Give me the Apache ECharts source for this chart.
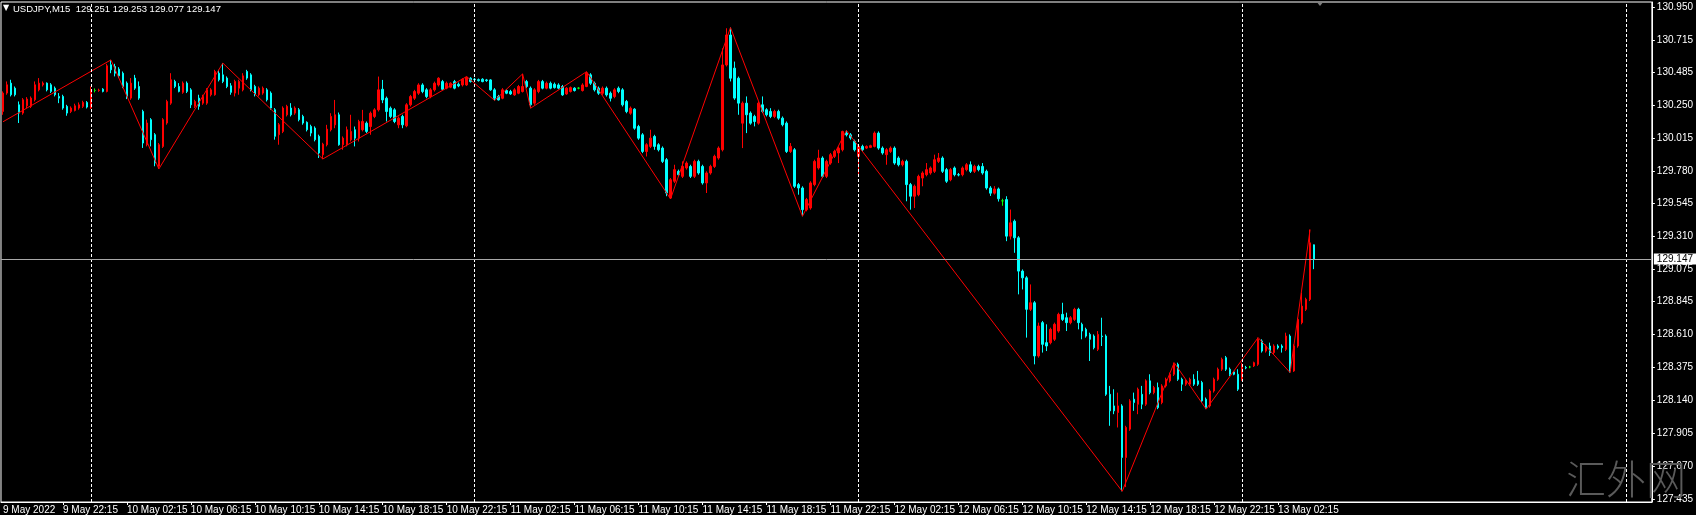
<!DOCTYPE html>
<html><head><meta charset="utf-8">
<script src="https://cdn.jsdelivr.net/npm/echarts@6/dist/echarts.min.js"></script>
<style>html,body{margin:0;padding:0;background:#000;}#c{width:1696px;height:515px;}</style>
</head><body><div id="c"></div>
<script>
const symbolName = 'USDJPY,M15';
const firstLabel = '9 May 2022';
const startDay = 9, startHour = 18, startMin = 30; // first bar: 9 May 2022 18:30, M15
const totalSlots = 413;

// [open, close, low, high]
const bars = [
[130.204,130.335,130.180,130.347],[130.335,130.394,130.323,130.418],[130.406,130.323,130.311,130.430],[130.370,130.323,130.311,130.382],
[130.251,130.192,130.121,130.275],[130.192,130.287,130.180,130.299],[130.244,130.292,130.228,130.306],[130.240,130.299,130.228,130.311],
[130.287,130.394,130.275,130.418],[130.358,130.406,130.347,130.442],[130.394,130.406,130.382,130.418],[130.406,130.358,130.347,130.411],
[130.394,130.347,130.335,130.406],[130.370,130.323,130.311,130.382],[130.311,130.299,130.263,130.335],[130.311,130.228,130.216,130.323],
[130.240,130.192,130.173,130.251],[130.204,130.228,130.192,130.240],[130.211,130.244,130.204,130.259],[130.228,130.251,130.216,130.268],
[130.240,130.268,130.228,130.280],[130.268,130.235,130.225,130.278],[130.228,130.358,130.221,130.382],[130.354,130.354,130.340,130.368],
[130.354,130.356,130.344,130.366],[130.363,130.347,130.340,130.370],[130.347,130.530,130.340,130.544],[130.537,130.501,130.477,130.572],
[130.525,130.477,130.454,130.544],[130.506,130.458,130.442,130.520],[130.477,130.382,130.370,130.489],[130.406,130.311,130.292,130.418],
[130.299,130.406,130.287,130.442],[130.442,130.370,130.358,130.465],[130.382,130.299,130.287,130.418],[130.204,129.978,129.943,130.216],
[129.966,130.121,129.954,130.145],[130.145,130.002,129.954,130.156],[130.038,129.836,129.812,130.049],[129.812,129.966,129.793,129.978],
[129.954,130.145,129.943,130.156],[130.121,130.275,130.109,130.287],[130.263,130.430,130.251,130.477],[130.418,130.382,130.370,130.430],
[130.382,130.347,130.340,130.406],[130.340,130.406,130.330,130.418],[130.406,130.347,130.335,130.418],[130.358,130.251,130.228,130.370],
[130.240,130.275,130.228,130.287],[130.299,130.240,130.216,130.323],[130.263,130.311,130.251,130.323],[130.263,130.358,130.251,130.370],
[130.323,130.358,130.311,130.370],[130.323,130.489,130.316,130.501],[130.477,130.430,130.418,130.501],[130.465,130.418,130.406,130.549],
[130.442,130.382,130.370,130.454],[130.387,130.340,130.323,130.406],[130.335,130.418,130.311,130.430],[130.370,130.418,130.323,130.430],
[130.358,130.458,130.347,130.477],[130.489,130.442,130.430,130.501],[130.465,130.358,130.347,130.477],[130.382,130.323,130.311,130.394],
[130.323,130.370,130.311,130.382],[130.335,130.370,130.323,130.382],[130.358,130.287,130.275,130.370],[130.335,130.228,130.216,130.347],
[130.216,130.026,130.002,130.228],[130.038,130.109,129.966,130.121],[130.061,130.228,130.049,130.240],[130.180,130.240,130.168,130.251],
[130.228,130.180,130.168,130.263],[130.192,130.228,130.180,130.240],[130.216,130.145,130.133,130.228],[130.168,130.121,130.109,130.180],
[130.126,130.073,130.061,130.133],[130.097,130.049,130.026,130.109],[130.085,130.002,129.990,130.097],[130.026,129.907,129.871,130.038],
[129.895,129.970,129.864,129.980],
[129.966,130.077,129.954,130.108],[130.073,130.168,130.061,130.191],[130.108,130.180,130.084,130.286],[130.180,129.966,129.959,130.196],
[129.966,130.013,129.930,130.025],[129.966,130.073,129.954,130.096],[130.001,130.061,129.989,130.180],[130.073,130.013,129.954,130.096],
[130.013,130.132,129.989,130.144],[130.073,130.132,130.061,130.215],[130.120,130.061,130.049,130.132],[130.096,130.191,130.037,130.203],
[130.168,130.215,130.156,130.227],[130.215,130.358,130.203,130.453],[130.362,130.286,130.263,130.429],[130.298,130.203,130.132,130.310],
[130.227,130.168,130.156,130.239],[130.215,130.132,130.120,130.227],[130.108,130.156,130.084,130.168],[130.168,130.108,130.084,130.180],
[130.101,130.251,130.091,130.263],[130.251,130.310,130.239,130.322],[130.298,130.346,130.286,130.358],[130.334,130.393,130.322,130.405],
[130.393,130.346,130.334,130.405],[130.358,130.310,130.298,130.370],[130.310,130.358,130.298,130.370],[130.358,130.405,130.346,130.417],
[130.393,130.441,130.382,130.448],[130.417,130.362,130.358,130.429],[130.370,130.405,130.362,130.417],[130.377,130.405,130.370,130.412],
[130.417,130.370,130.362,130.429],[130.398,130.386,130.377,130.410],[130.393,130.434,130.382,130.441],[130.393,130.448,130.386,130.453],
[130.441,130.417,130.410,130.448],[130.434,130.431,130.424,130.443],[130.431,130.424,130.417,130.439],[130.434,130.417,130.412,130.441],
[130.429,130.424,130.415,130.436],[130.429,130.358,130.351,130.434],[130.358,130.298,130.282,130.370],[130.310,130.286,130.282,130.322],
[130.298,130.358,130.291,130.370],[130.353,130.334,130.327,130.362],[130.346,130.329,130.322,130.358],[130.322,130.358,130.315,130.370],
[130.334,130.382,130.327,130.393],[130.346,130.382,130.339,130.472],[130.417,130.382,130.370,130.429],[130.370,130.251,130.227,130.382],
[130.263,130.358,130.251,130.370],[130.346,130.417,130.334,130.429],[130.417,130.370,130.362,130.429],[130.370,130.405,130.362,130.417],
[130.405,130.370,130.362,130.417],[130.398,130.374,130.367,130.410],[130.393,130.370,130.362,130.405],[130.382,130.322,130.315,130.393],
[130.329,130.370,130.322,130.377],[130.346,130.374,130.339,130.382],[130.370,130.353,130.346,130.377],[130.370,130.370,130.362,130.377],
[130.353,130.393,130.346,130.405],[130.382,130.477,130.377,130.488],[130.465,130.405,130.393,130.477],[130.405,130.358,130.346,130.417],
[130.370,130.334,130.322,130.382],[130.334,130.370,130.322,130.382],[130.370,130.322,130.310,130.382],[130.334,130.298,130.275,130.346],
[130.310,130.358,130.298,130.370],[130.370,130.346,130.334,130.382],[130.358,130.251,130.239,130.370],[130.275,130.203,130.191,130.286],
[130.191,130.227,130.180,130.239],[130.220,130.084,130.073,130.227],[130.096,130.013,130.001,130.108],[130.037,129.918,129.906,130.049],
[129.918,129.966,129.882,129.977],[129.954,130.013,129.942,130.073],[130.025,129.954,129.930,130.037],[129.966,129.930,129.918,129.977],
[129.942,129.847,129.835,129.954],[129.859,129.621,129.598,129.871],[129.586,129.716,129.579,129.728],[129.705,129.788,129.693,129.823],
[129.776,129.752,129.740,129.788],[129.740,129.811,129.728,129.847],[129.800,129.835,129.788,129.847],[129.811,129.740,129.728,129.823],
[129.740,129.847,129.728,129.859],[129.847,129.764,129.752,129.859],[129.811,129.693,129.681,129.823],[129.693,129.764,129.621,129.776],
[129.764,129.811,129.752,129.823],[129.811,129.883,129.800,129.895],[129.871,129.942,129.859,129.954],[129.930,130.536,129.918,130.655],
[130.536,130.750,130.525,130.798],[130.750,130.441,130.418,130.803],[130.513,130.299,130.287,130.560],[130.441,130.263,130.180,130.453],
[130.120,130.263,129.942,130.275],[130.263,130.180,130.049,130.311],[130.192,130.120,130.109,130.204],[130.168,130.132,130.097,130.180],
[130.120,130.263,130.109,130.275],[130.251,130.204,130.192,130.311],[130.216,130.180,130.168,130.227],[130.204,130.168,130.156,130.227],
[130.168,130.204,130.156,130.216],[130.204,130.156,130.144,130.216],[130.156,130.109,130.097,130.168],[130.120,129.918,129.907,130.132],
[129.918,129.954,129.907,129.978],[129.930,129.669,129.657,129.942],[129.681,129.657,129.609,129.693],[129.657,129.502,129.455,129.669],
[129.502,129.574,129.490,129.586],[129.514,129.693,129.502,129.705],[129.681,129.847,129.669,129.859],[129.800,129.871,129.788,129.930],
[129.871,129.740,129.728,129.883],[129.740,129.847,129.728,129.859],[129.835,129.895,129.823,129.907],[129.883,129.918,129.871,129.930],
[129.907,129.942,129.835,129.954],[129.930,130.061,129.918,130.066],[130.049,130.037,130.025,130.068],[130.037,130.014,130.002,130.049],
[129.990,129.930,129.918,130.002],[129.883,129.954,129.740,129.966],[129.954,129.930,129.918,129.966],[129.942,129.954,129.935,129.961],
[129.947,129.959,129.942,129.966],[129.954,130.049,129.947,130.061],[130.049,129.942,129.930,130.061],[129.942,129.907,129.895,129.954],
[129.895,129.930,129.823,129.942],[129.918,129.942,129.907,129.954],[129.942,129.835,129.823,129.954],[129.871,129.823,129.811,129.883],
[129.823,129.847,129.811,129.859],[129.847,129.681,129.562,129.859],[129.681,129.598,129.502,129.693],[129.598,129.669,129.514,129.681],
[129.609,129.740,129.598,129.752],[129.728,129.764,129.669,129.776],[129.752,129.788,129.740,129.835],[129.764,129.800,129.752,129.811],
[129.776,129.859,129.764,129.895],[129.847,129.871,129.835,129.907],[129.871,129.776,129.764,129.883],[129.788,129.705,129.693,129.800],
[129.716,129.788,129.705,129.800],[129.800,129.752,129.740,129.811],[129.752,129.750,129.740,129.764],[129.752,129.800,129.740,129.811],
[129.788,129.823,129.776,129.835],[129.823,129.776,129.764,129.847],[129.776,129.811,129.764,129.823],[129.811,129.788,129.776,129.823],
[129.811,129.764,129.752,129.835],[129.776,129.657,129.645,129.788],[129.657,129.620,129.600,129.670],[129.620,129.650,129.610,129.670],
[129.650,129.580,129.560,129.660],[129.565,129.565,129.530,129.580],
[129.574,129.313,129.277,129.598],[129.313,129.408,129.289,129.503],[129.420,129.301,129.194,129.432],[129.301,129.063,128.897,129.313],
[129.063,129.015,128.932,129.075],[129.015,128.790,128.588,129.027],[128.790,128.837,128.778,128.968],[128.837,128.457,128.397,128.849],
[128.457,128.671,128.445,128.695],[128.695,128.540,128.481,128.707],[128.552,128.528,128.492,128.683],[128.552,128.647,128.540,128.659],
[128.576,128.683,128.564,128.695],[128.635,128.754,128.623,128.766],[128.754,128.718,128.707,128.837],[128.730,128.695,128.635,128.766],
[128.695,128.730,128.683,128.742],[128.718,128.790,128.707,128.801],[128.790,128.695,128.647,128.801],[128.683,128.635,128.576,128.695],
[128.647,128.599,128.588,128.659],[128.611,128.576,128.421,128.623],[128.599,128.516,128.504,128.611],[128.504,128.611,128.492,128.635],
[128.599,128.595,128.528,128.730],[128.599,128.183,128.172,128.611],[128.183,128.065,127.958,128.243],[128.100,128.065,128.041,128.219],
[128.053,128.100,127.946,128.195],[128.100,127.732,127.490,128.112],[127.732,127.946,127.520,127.958],[127.934,128.136,127.922,128.148],
[128.148,128.124,128.065,128.195],[128.112,128.219,128.041,128.231],[128.183,128.112,128.077,128.243],[128.112,128.279,128.100,128.290],
[128.279,128.195,128.183,128.326],[128.195,128.231,128.183,128.243],[128.231,128.088,128.077,128.267],[128.124,128.243,128.112,128.255],
[128.243,128.290,128.231,128.302],[128.279,128.326,128.267,128.338],[128.326,128.397,128.314,128.409],[128.397,128.290,128.279,128.409],
[128.290,128.255,128.207,128.302],[128.255,128.279,128.243,128.290],[128.255,128.290,128.243,128.302],[128.290,128.255,128.243,128.326],
[128.279,128.255,128.243,128.350],[128.267,128.136,128.124,128.279],[128.148,128.088,128.077,128.160],[128.100,128.207,128.088,128.219],
[128.207,128.290,128.195,128.302],[128.290,128.362,128.279,128.374],[128.362,128.433,128.350,128.445],[128.445,128.362,128.350,128.457],
[128.362,128.326,128.314,128.374],[128.343,128.326,128.319,128.350],[128.326,128.219,128.207,128.362],[128.290,128.397,128.279,128.409],
[128.374,128.371,128.362,128.386],[128.378,128.378,128.369,128.386],[128.386,128.409,128.378,128.416],[128.397,128.576,128.386,128.588],
[128.564,128.492,128.481,128.576],[128.492,128.528,128.481,128.540],[128.528,128.481,128.457,128.552],[128.481,128.528,128.469,128.540],
[128.528,128.516,128.504,128.540],[128.528,128.516,128.481,128.540],[128.504,128.599,128.492,128.623],[128.599,128.350,128.338,128.611],
[128.350,128.528,128.343,128.540],[128.528,128.718,128.516,128.730],[128.695,128.813,128.683,128.908],[128.790,128.861,128.778,128.873],
[128.861,129.265,128.849,129.360],[129.251,129.147,129.077,129.253]
];

const zzBars   = [0, 27, 39, 55, 80, 116, 123, 130, 132, 146, 167, 182, 200, 211, 280, 293, 301, 314, 322, 327];
const zzPrices = [130.130, 130.572, 129.793, 130.549, 129.864, 130.453, 130.282, 130.472, 130.227, 130.488,
                  129.579, 130.803, 129.455, 130.068, 127.490, 128.409, 128.077, 128.588, 128.338, 129.360];

const yTicks = [130.950, 130.715, 130.485, 130.250, 130.015, 129.780, 129.545, 129.310,
                129.075, 128.845, 128.610, 128.375, 128.140, 127.905, 127.670, 127.435];
const yMin = 127.4136, yMax = 130.9856;
const separators = ['10 May 00:00', '11 May 00:00', '12 May 00:00', '13 May 00:00', '14 May 00:00'];
const bidPrice = 129.147;

const categories = [];
for (let i = 0; i < totalSlots; i++) {
  let m = startHour * 60 + startMin + i * 15;
  const d = startDay + Math.floor(m / 1440);
  m = m % 1440;
  const h = Math.floor(m / 60), mm = m % 60;
  categories.push(d + ' May ' + String(h).padStart(2, '0') + ':' + String(mm).padStart(2, '0'));
}
const lastIdx = bars.length - 1;
const showLabel = (idx) => idx === 0 || (idx >= 15 && (idx - 15) % 16 === 0 && idx <= lastIdx);
const showTick = (idx) => idx >= 15 && (idx - 15) % 16 === 0 && idx <= lastIdx;

const last = bars[lastIdx];
const header = symbolName + '  ' + [last[0], last[3], last[2], last[1]].map(v => v.toFixed(3)).join(' ');

const chart = echarts.init(document.getElementById('c'), null, {renderer: 'canvas'});
chart.setOption({
  backgroundColor: '#000',
  animation: false,
  grid: {left: 0, right: 43, top: 2, bottom: 12, show: true, borderColor: '#ffffff', borderWidth: 1},
  xAxis: {
    type: 'category', data: categories, boundaryGap: true,
    axisLine: {show: true, lineStyle: {color: '#ffffff', width: 1}},
    axisTick: {show: true, interval: showTick, alignWithLabel: true, length: 3, lineStyle: {color: '#ffffff'}},
    axisLabel: {interval: showLabel, formatter: (v, idx) => idx === 0 ? firstLabel : v,
      align: 'left', color: '#ffffff', fontSize: 10, fontFamily: 'Liberation Sans', margin: 3},
    splitLine: {show: false}
  },
  yAxis: {
    type: 'value', position: 'right', min: yMin, max: yMax, scale: true,
    axisLine: {show: true, lineStyle: {color: '#ffffff', width: 1}},
    axisTick: {show: true, customValues: yTicks, length: 3, lineStyle: {color: '#ffffff'}},
    axisLabel: {customValues: yTicks, formatter: v => v.toFixed(3), color: '#ffffff', fontSize: 10,
      fontFamily: 'Liberation Sans', margin: 5},
    splitLine: {show: false}
  },
  series: [
    {
      type: 'candlestick', data: bars, barWidth: 2,
      itemStyle: {color: '#ff0000', color0: '#00ffff', borderColor: '#ff0000', borderColor0: '#00ffff',
        borderColorDoji: '#00ff00', borderWidth: 1},
      markLine: {
        silent: true, symbol: 'none', animation: false,
        data: separators.map(s => ({xAxis: s, lineStyle: {type: [3, 2], color: '#ffffff', width: 1}, label: {show: false}}))
          .concat([{yAxis: bidPrice, lineStyle: {type: 'solid', color: '#a8a8a8', width: 1},
            label: {show: true, position: 'end', formatter: bidPrice.toFixed(3), backgroundColor: '#ffffff',
              color: '#000000', fontSize: 10, fontFamily: 'Liberation Sans', padding: [1, 3, 0, 3], distance: 2}}])
      },
      z: 2
    },
    {
      type: 'line', data: zzBars.map((b, i) => [b, zzPrices[i]]), symbol: 'none',
      lineStyle: {color: '#ff0000', width: 1}, z: 3, silent: true
    }
  ],
  graphic: [
    {type: 'text', left: 3, top: 4, style: {text: '▼', fill: '#ffffff', fontSize: 8, fontFamily: 'DejaVu Sans'}},
    {type: 'text', left: 13, top: 4, style: {text: header, fill: '#ffffff', fontSize: 9.5, fontFamily: 'Liberation Sans'}},
    {type: 'polygon', shape: {points: [[1316, 1], [1324, 1], [1320, 6]]}, style: {fill: '#808080'}},
    {type: 'text', left: 1566, top: 459, z: 10, style: {text: '汇外网', fill: '#5a5a5a', fontSize: 40, fontFamily: 'Noto Sans CJK SC', fontWeight: 300}}
  ]
});
</script></body></html>
